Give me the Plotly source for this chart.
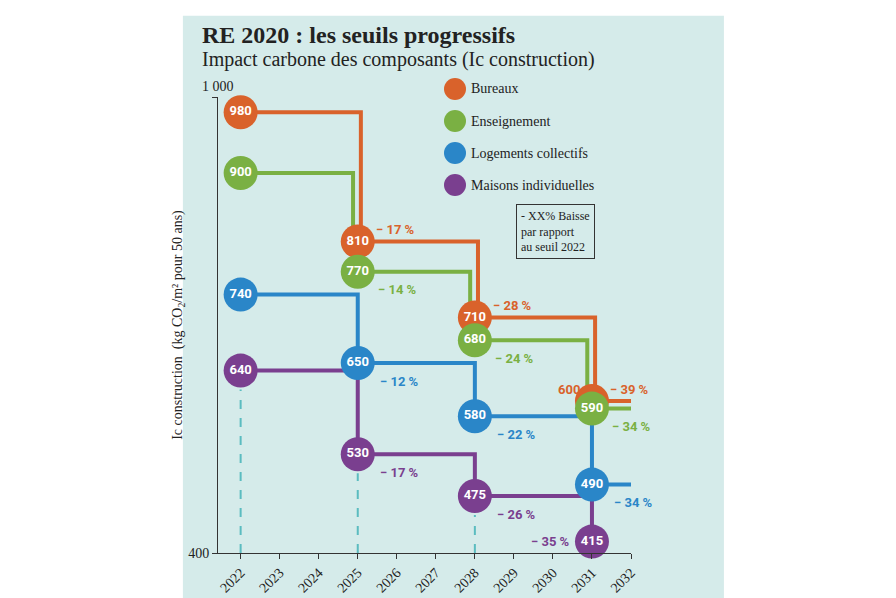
import plotly.graph_objects as go

years = [2022, 2025, 2028, 2031]
end_year = 2032
bureaux = [980, 810, 710, 600]
enseignement = [900, 770, 680, 590]
logements = [740, 650, 580, 490]
maisons = [640, 530, 475, 415]
pct_bureaux = ["", "− 17 %", "− 28 %", "− 39 %"]
pct_enseignement = ["", "− 14 %", "− 24 %", "− 34 %"]
pct_logements = ["", "− 12 %", "− 22 %", "− 34 %"]
pct_maisons = ["", "− 17 %", "− 26 %", "− 35 %"]
x_ticks = list(range(2022, 2033))

ORANGE, GREEN, BLUE, PURPLE = "#d9622b", "#7ab043", "#2a86c8", "#7a3f8f"
BG = "#d5ebea"

series = [
    ("Maisons individuelles", maisons, pct_maisons, PURPLE, 0.0, False, (20, -18, "left")),
    ("Logements collectifs", logements, pct_logements, BLUE, 0.0, True, (20, -18, "left")),
    ("Bureaux", bureaux, pct_bureaux, ORANGE, 0.08, True, (16, 12, "left")),
    ("Enseignement", enseignement, pct_enseignement, GREEN, -0.12, True, (18, -18, "left")),
]

fig = go.Figure()
ann = []
for name, vals, pcts, col, off, ext, _ in series:
    lx = [y + off for y in years]
    ly = list(vals)
    if ext:
        lx.append(end_year)
        ly.append(vals[-1])
    fig.add_trace(go.Scatter(x=lx, y=ly, mode="lines", line=dict(color=col, width=4, shape="hv"),
                             hoverinfo="skip", showlegend=False))

for name, vals, pcts, col, off, ext, (xs, ys, anc) in series:
    texts = [str(v) for v in vals]
    if name == "Bureaux":
        texts[-1] = ""
    fig.add_trace(go.Scatter(x=years, y=vals, mode="markers+text", text=texts, cliponaxis=False,
                             marker=dict(size=34, color=col), textposition="middle center",
                             textfont=dict(color="white", size=13, family="Roboto", weight="bold"),
                             hoverinfo="skip", showlegend=False))
    for i in range(1, 4):
        xs_i, anc_i, ys_i = xs, anc, ys
        if name == "Maisons individuelles" and i == 3:
            xs_i, anc_i, ys_i = -20, "right", 0
        ann.append(dict(x=years[i], y=vals[i], text=pcts[i], showarrow=False, xref="x", yref="y",
                        xshift=xs_i, yshift=ys_i, xanchor=anc_i,
                        font=dict(color=col, size=13, family="Roboto", weight="bold")))

ann.append(dict(x=years[3], y=bureaux[3], text=str(bureaux[3]), showarrow=False, xshift=-10, yshift=12,
                xanchor="right", font=dict(color=ORANGE, size=13, family="Roboto", weight="bold")))

shapes = [dict(type="rect", xref="paper", yref="paper", x0=-0.085, x1=1.225, y0=-0.115, y1=1.178,
               fillcolor=BG, line=dict(width=0), layer="below")]
for y, v in zip(years[:3], maisons[:3]):
    shapes.append(dict(type="line", xref="x", yref="y", x0=y, x1=y, y0=400, y1=v - 25,
                       line=dict(color="#5bbcc0", width=2, dash="dash"), layer="below"))

leg = [("Bureaux", ORANGE), ("Enseignement", GREEN), ("Logements collectifs", BLUE), ("Maisons individuelles", PURPLE)]
for k, (n, c) in enumerate(leg):
    yp = (545 - (81 + 32 * k)) / 456
    xp = (447 - 210) / 413
    shapes.append(dict(type="circle", xref="paper", yref="paper", xsizemode="pixel", ysizemode="pixel",
                       xanchor=xp, yanchor=yp, x0=-11, x1=11, y0=-11, y1=11, fillcolor=c, line=dict(width=0)))
    ann.append(dict(x=xp, y=yp, xref="paper", yref="paper", text=n, showarrow=False, xshift=14,
                    xanchor="left", yanchor="middle", font=dict(size=14, family="Liberation Serif", color="#222")))

ann.append(dict(x=(508 - 210) / 413, y=(545 - 196) / 456, xref="paper", yref="paper", xanchor="left", yanchor="top",
                text="- XX% Baisse<br>par rapport<br>au seuil 2022", showarrow=False, align="left",
                bordercolor="#333", borderwidth=1, borderpad=4,
                font=dict(size=12, family="Liberation Serif", color="#222")))
ann.append(dict(x=(192 - 210) / 413, y=(545 - 27) / 456, xref="paper", yref="paper", xanchor="left", yanchor="middle",
                showarrow=False, text="<b>RE 2020 : les seuils progressifs</b>",
                font=dict(size=24, family="Liberation Serif", color="#222")))
ann.append(dict(x=(192 - 210) / 413, y=(545 - 51) / 456, xref="paper", yref="paper", xanchor="left", yanchor="middle",
                showarrow=False, text="Impact carbone des composants (Ic construction)",
                font=dict(size=20, family="Liberation Serif", color="#222")))
ann.append(dict(x=0, y=1000, xref="paper", yref="y", xanchor="center", yanchor="bottom", showarrow=False, yshift=1,
                text="1 000", font=dict(size=14, family="Liberation Serif", color="#222")))

fig.update_layout(
    width=896, height=598, margin=dict(l=210, r=273, t=89, b=53, autoexpand=False),
    paper_bgcolor="white", plot_bgcolor=BG, shapes=shapes, annotations=ann,
    xaxis=dict(range=[2021.42, 2032], tickvals=x_ticks, tickangle=-45, showgrid=False, zeroline=False,
               automargin=False, showline=True, linecolor="#333", ticks="outside", ticklen=5, tickcolor="#333",
               tickfont=dict(size=14, family="Liberation Serif", color="#222")),
    yaxis=dict(range=[400, 1000], tickvals=[400, 1000], ticktext=["400", ""], showgrid=False, zeroline=False,
               automargin=False, showline=True, linecolor="#333", ticks="outside", ticklen=5, tickcolor="#333",
               tickfont=dict(size=14, family="Liberation Serif", color="#222"),
               title=dict(text="Ic construction  (kg CO<sub>2</sub>/m² pour 50 ans)", standoff=2,
                          font=dict(size=14, family="Liberation Serif", color="#222"))),
)
fig.write_html("out.html")
